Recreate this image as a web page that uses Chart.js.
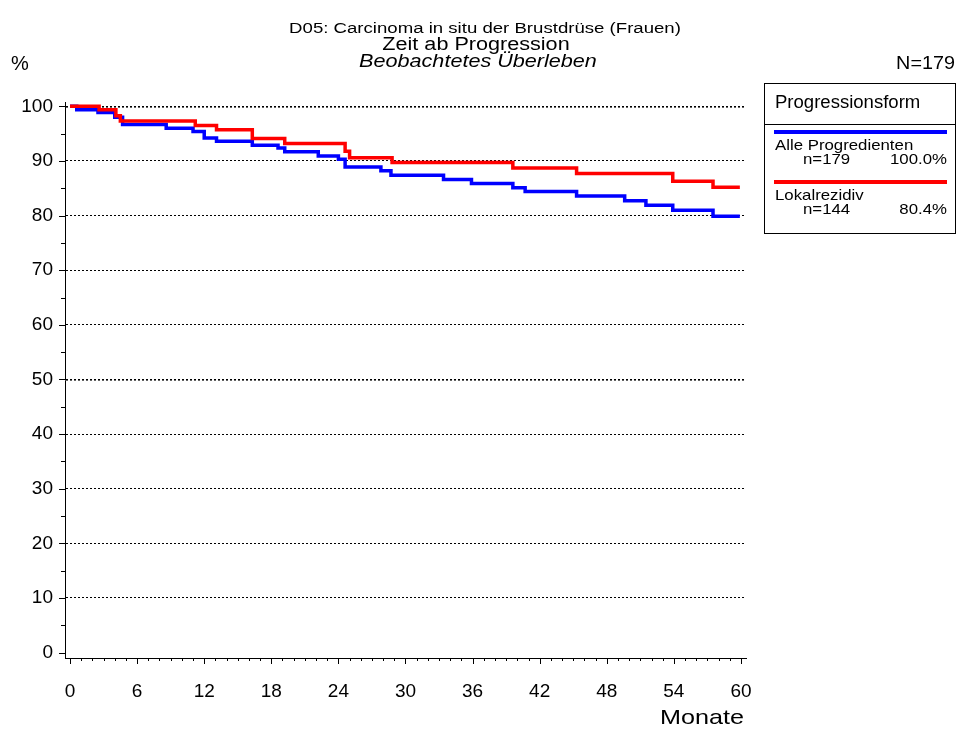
<!DOCTYPE html>
<html>
<head>
<meta charset="utf-8">
<script src="https://cdn.jsdelivr.net/npm/chart.js@4.4.0/dist/chart.umd.min.js"></script>
<style>
  html, body { margin: 0; padding: 0; background: #fff; }
  #wrap { position: relative; width: 957px; height: 730px; }
</style>
</head>
<body>
<div id="wrap"><canvas id="myChart"></canvas></div>
<script>
// 1. DATEN

const monateAlle = [0, 0.6, 2.5, 4.0, 4.7, 8.6, 11.0, 12.0, 13.1, 16.3, 18.6, 19.2, 22.2, 24.0, 24.6, 27.8, 28.7, 33.4, 35.9, 39.6, 40.7, 45.3, 49.6, 51.5, 53.9, 57.5, 59.9];
const werteAlle  = [100, 99.4, 98.9, 98.0, 96.7, 96.0, 95.4, 94.2, 93.6, 92.9, 92.4, 91.7, 90.9, 90.3, 88.9, 88.2, 87.4, 86.6, 85.9, 85.1, 84.4, 83.6, 82.7, 81.9, 81.0, 79.9, 79.9];

const monateLokal = [0, 2.6, 4.1, 4.5, 11.2, 13.1, 16.3, 19.2, 24.6, 25.0, 28.8, 39.6, 45.3, 53.9, 57.5, 59.9];
const werteLokal  = [100, 99.4, 98.3, 97.3, 96.5, 95.7, 94.1, 93.2, 91.8, 90.6, 89.7, 88.7, 87.7, 86.3, 85.2, 85.2];

const xLabels = [0, 6, 12, 18, 24, 30, 36, 42, 48, 54, 60];
const yLabels = [0, 10, 20, 30, 40, 50, 60, 70, 80, 90, 100];

const gruppen = ["Alle Progredienten", "Lokalrezidiv"];
const anzahl  = ["n=179", "n=144"];
const anteil  = ["100.0%", "80.4%"];
const farben  = ["#0000ff", "#ff0000"];

const FONT = "'Liberation Sans', Arial, sans-serif";

// Hilfstriche: jeden Monat / alle 5 %
const xTicks = [];
for (let m = 0; m <= 60; m++) xTicks.push(m);
const yTicks = [];
for (let p = 0; p <= 100; p += 5) yTicks.push(p);

function punkte(xs, ys) {
  return xs.map((x, i) => ({ x: x, y: ys[i] }));
}

// Text leicht in die Breite gezogen, wie im Original
function text(ctx, s, x, y, align, font, sx) {
  ctx.save();
  ctx.font = font;
  ctx.textAlign = align;
  ctx.textBaseline = "middle";
  ctx.fillStyle = "#000";
  ctx.translate(x, y);
  ctx.scale(sx, 1);
  ctx.fillText(s, 0, 0);
  ctx.restore();
}


// 2. PLUGINS (Striche, Texte, Legende)

const striche = {
  id: "striche",
  afterDraw(chart) {
    const ctx = chart.ctx;
    const xs = chart.scales.x;
    const ys = chart.scales.y;
    ctx.save();
    ctx.strokeStyle = "#000";
    ctx.lineWidth = 1;
    ctx.beginPath();
    yTicks.forEach(v => {
      const py = Math.round(ys.getPixelForValue(v)) + 0.5;
      const len = v % 10 === 0 ? 6 : 4;
      ctx.moveTo(xs.left - len, py);
      ctx.lineTo(xs.left, py);
    });
    xTicks.forEach(v => {
      const px = Math.round(xs.getPixelForValue(v)) + 0.5;
      const len = v % 6 === 0 ? 6 : 3;
      ctx.moveTo(px, ys.bottom);
      ctx.lineTo(px, ys.bottom + len);
    });
    ctx.stroke();
    ctx.restore();
  }
};

const texte = {
  id: "texte",
  afterDraw(chart) {
    const ctx = chart.ctx;

    text(ctx, "D05: Carcinoma in situ der Brustdrüse (Frauen)", 485, 29, "center", "15.5px " + FONT, 1.2);
    text(ctx, "Zeit ab Progression", 476, 45, "center", "18px " + FONT, 1.2);
    text(ctx, "Beobachtetes Überleben", 478, 62, "center", "italic 18px " + FONT, 1.2);

    text(ctx, "%", 11, 64, "left", "20px " + FONT, 1.0);
    text(ctx, "N=179", 955, 64, "right", "18px " + FONT, 1.1);
    text(ctx, "Monate", 744, 718, "right", "21px " + FONT, 1.2);

    // Legende
    const L = 764, R = 955, T = 83, B = 233;
    ctx.save();
    ctx.strokeStyle = "#000";
    ctx.lineWidth = 1;
    ctx.strokeRect(L + 0.5, T + 0.5, R - L, B - T);
    ctx.beginPath();
    ctx.moveTo(L, 124.5);
    ctx.lineTo(R, 124.5);
    ctx.stroke();
    ctx.restore();

    text(ctx, "Progressionsform", 775, 103, "left", "18px " + FONT, 1.03);

    const zeilen = [132, 182];
    gruppen.forEach((g, i) => {
      const y0 = zeilen[i];
      ctx.save();
      ctx.strokeStyle = farben[i];
      ctx.lineWidth = 4;
      ctx.beginPath();
      ctx.moveTo(774, y0);
      ctx.lineTo(947, y0);
      ctx.stroke();
      ctx.restore();
      text(ctx, g, 775, y0 + 14, "left", "15px " + FONT, 1.12);
      text(ctx, anzahl[i], 803, y0 + 28, "left", "15px " + FONT, 1.12);
      text(ctx, anteil[i], 947, y0 + 28, "right", "15px " + FONT, 1.12);
    });
  }
};


// 3. GRAFIK

const config = {
  type: "line",
  data: {
    datasets: [
      {
        label: gruppen[1],
        data: punkte(monateLokal, werteLokal),
        borderColor: farben[1],
        borderWidth: 3.5,
        stepped: true,
        pointRadius: 0,
        fill: false,
        order: 0
      },
      {
        label: gruppen[0],
        data: punkte(monateAlle, werteAlle),
        borderColor: farben[0],
        borderWidth: 3.5,
        stepped: true,
        pointRadius: 0,
        fill: false,
        order: 1
      }
    ]
  },
  options: {
    responsive: true,
    maintainAspectRatio: false,
    animation: false,
    layout: { padding: { left: 0, top: 102, right: 211, bottom: 0 } },
    plugins: { legend: { display: false }, tooltip: { enabled: false } },
    scales: {
      x: {
        type: "linear",
        min: -0.45,
        max: 60.45,
        afterBuildTicks: s => { s.ticks = xTicks.map(v => ({ value: v })); },
        afterFit: s => { s.height = 72; },
        ticks: {
          autoSkip: false,
          maxRotation: 0,
          padding: 22,
          color: "#000",
          font: { family: FONT, size: 19 },
          callback: v => xLabels.includes(v) ? String(v) : ""
        },
        grid: { display: false, drawTicks: false },
        border: { color: "#000", width: 1 }
      },
      y: {
        min: -1,
        max: 100.8,
        afterBuildTicks: s => { s.ticks = yTicks.map(v => ({ value: v })); },
        afterFit: s => { s.width = 65; },
        ticks: {
          autoSkip: false,
          padding: 12,
          color: "#000",
          font: { family: FONT, size: 19 },
          callback: v => yLabels.includes(v) ? String(v) : ""
        },
        grid: {
          drawTicks: false,
          color: c => (c.tick && c.tick.value % 10 === 0 && c.tick.value !== 0) ? "#000" : "rgba(0,0,0,0)",
          lineWidth: c => (c.tick && (c.tick.value === 100 || c.tick.value === 50)) ? 1.6 : 1
        },
        border: { color: "#000", width: 1, dash: [2, 2] }
      }
    }
  },
  plugins: [striche, texte]
};

const ctx = document.getElementById("myChart");
const chart = new Chart(ctx, config);
</script>
</body>
</html>
